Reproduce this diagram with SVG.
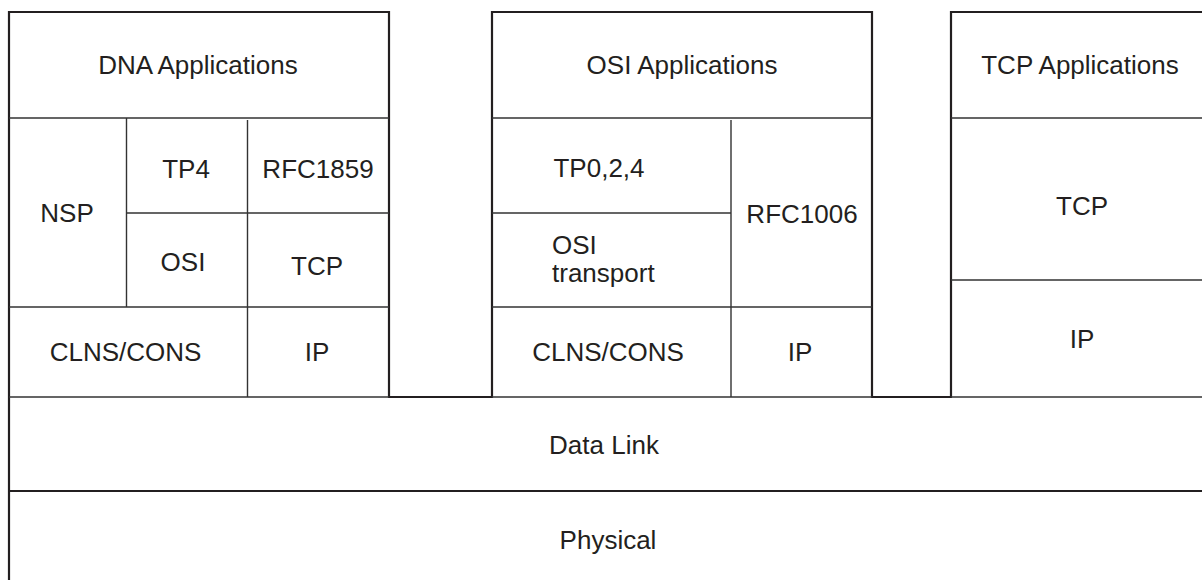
<svg xmlns="http://www.w3.org/2000/svg" width="1202" height="580" viewBox="0 0 1202 580">
<style>
.outer{fill:none;stroke:#231f20;stroke-width:2.2;stroke-linejoin:miter}
.inner{fill:none;stroke:#333;stroke-width:1.4}
.mid{fill:none;stroke:#231f20;stroke-width:1.8}
text{font-family:"Liberation Sans",Arial,sans-serif;font-size:26px;fill:#231f20;text-anchor:middle}
.l{text-anchor:start}
</style>
<rect width="1202" height="580" fill="#fff"/>
<g id="connectors">
<path class="outer" d="M9,580 V12 H389 V397 H492 V12 H872 V397 H951 V12 H1202"/>
<path class="inner" d="M9,118 H389 M492,118 H872 M951,118 H1202 M126.5,118 V307 M247.5,120 V397 M126.5,213 H389 M9,307 H389 M731,120 V397 M492,213 H731 M492,307 H872 M951,280 H1202 M9,397 H389 M492,397 H872 M951,397 H1202"/>
<path class="mid" d="M9,491 H1202"/>
</g>
<g id="dna-apps"><text x="198" y="74">DNA Applications</text></g>
<g id="dna-nsp"><text x="67" y="222">NSP</text></g>
<g id="dna-tp4"><text x="186" y="178">TP4</text></g>
<g id="dna-rfc1859"><text x="318" y="178">RFC1859</text></g>
<g id="dna-osi"><text x="183" y="271">OSI</text></g>
<g id="dna-tcp"><text x="317" y="275">TCP</text></g>
<g id="dna-clns"><text x="125.5" y="361">CLNS/CONS</text></g>
<g id="dna-ip"><text x="317" y="361">IP</text></g>
<g id="osi-apps"><text x="682" y="74">OSI Applications</text></g>
<g id="osi-tp"><text x="599" y="177">TP0,2,4</text></g>
<g id="osi-transport"><text class="l" x="552" y="254">OSI</text><text class="l" x="552" y="282">transport</text></g>
<g id="osi-rfc1006"><text x="802" y="223">RFC1006</text></g>
<g id="osi-clns"><text x="608" y="361">CLNS/CONS</text></g>
<g id="osi-ip"><text x="800" y="361">IP</text></g>
<g id="tcp-apps"><text x="1080" y="74">TCP Applications</text></g>
<g id="tcp-tcp"><text x="1082" y="215">TCP</text></g>
<g id="tcp-ip"><text x="1082" y="348">IP</text></g>
<g id="datalink"><text x="604" y="454">Data Link</text></g>
<g id="physical"><text x="608" y="549">Physical</text></g>
</svg>
